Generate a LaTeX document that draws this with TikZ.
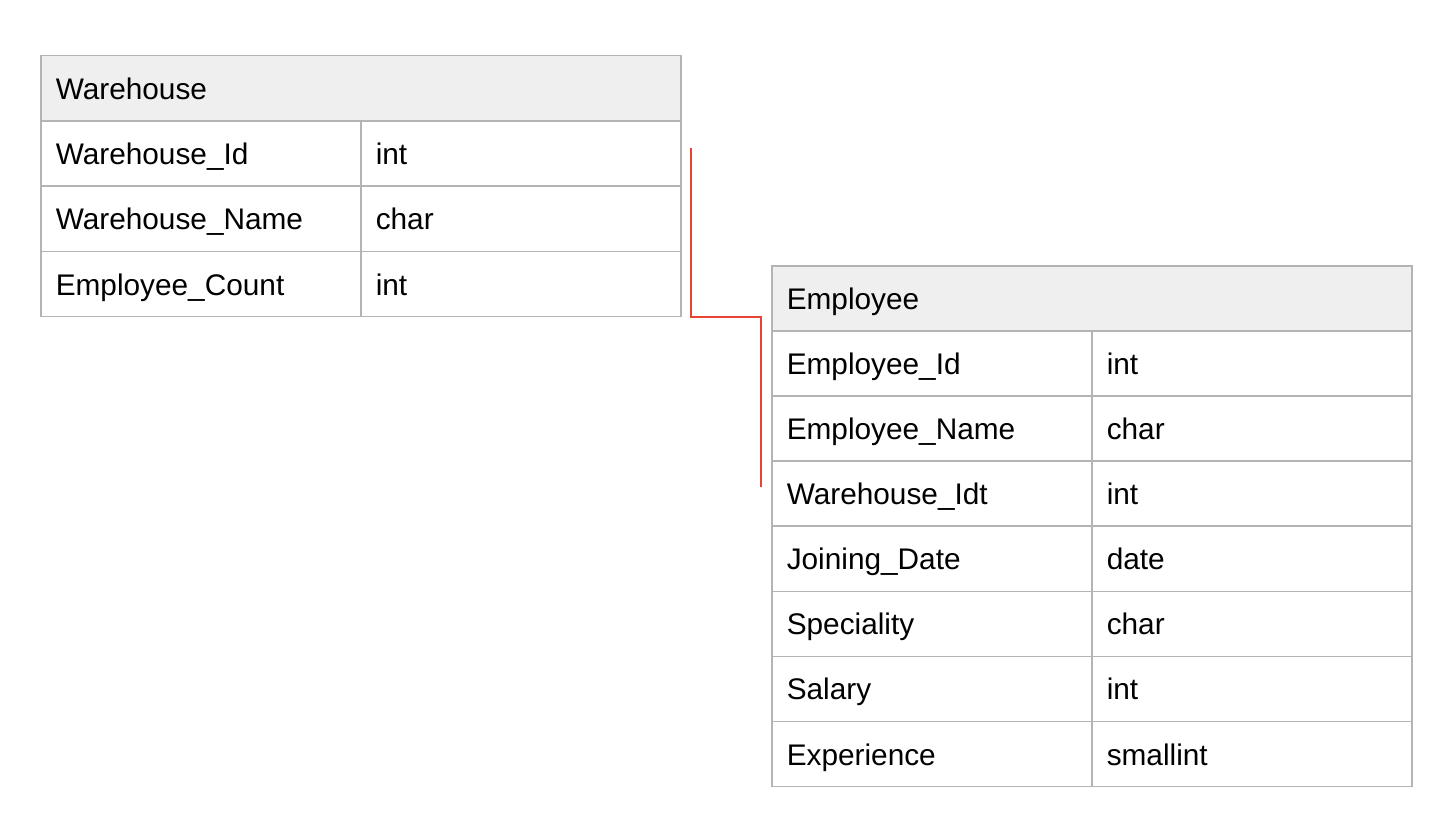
\documentclass[tikz,border=0pt]{standalone}
\usepackage{fontspec}
\setmainfont{Liberation Sans}
\definecolor{gridgray}{HTML}{B4B4B4}
\definecolor{headfill}{HTML}{EFEFEF}
\definecolor{linkred}{HTML}{EA4335}
\begin{document}
\begin{tikzpicture}[x=1pt,y=-1pt,
  cell/.style={draw=gridgray, line width=1.5pt, anchor=north west, inner xsep=15pt, inner ysep=0pt,
    minimum height=65.2pt, text width=290pt, align=left, text height=28pt, text depth=6pt,
    font=\fontsize{29.8}{34}\selectfont},
  headcell/.style={cell, fill=headfill, text width=610pt},
  link/.style={draw=linkred, line width=1.1pt}]
\useasboundingbox (0,0) rectangle (1454,816);
% Warehouse table
\node[headcell] (wh) at (40,55) {Warehouse};
\node[cell] (wh1n) at (40,120.25) {Warehouse\_Id};
\node[cell] (wh1t) at (360,120.25) {int};
\node[cell] (wh2n) at (40,185.5) {Warehouse\_Name};
\node[cell] (wh2t) at (360,185.5) {char};
\node[cell] (wh3n) at (40,250.75) {Employee\_Count};
\node[cell] (wh3t) at (360,250.75) {int};
% Employee table
\node[headcell] (em) at (771,265) {Employee};
\node[cell] (em1n) at (771,330.1) {Employee\_Id};
\node[cell] (em1t) at (1091,330.1) {int};
\node[cell] (em2n) at (771,395.2) {Employee\_Name};
\node[cell] (em2t) at (1091,395.2) {char};
\node[cell] (em3n) at (771,460.3) {Warehouse\_Idt};
\node[cell] (em3t) at (1091,460.3) {int};
\node[cell] (em4n) at (771,525.4) {Joining\_Date};
\node[cell] (em4t) at (1091,525.4) {date};
\node[cell] (em5n) at (771,590.5) {Speciality};
\node[cell] (em5t) at (1091,590.5) {char};
\node[cell] (em6n) at (771,655.6) {Salary};
\node[cell] (em6t) at (1091,655.6) {int};
\node[cell] (em7n) at (771,720.7) {Experience};
\node[cell] (em7t) at (1091,720.7) {smallint};
% connector
\coordinate (cs) at (691,148);
\coordinate (cm) at (761,317);
\coordinate (ce) at (761,487);
\draw[link] (cs) |- (cm) -- (ce);
\end{tikzpicture}
\end{document}
